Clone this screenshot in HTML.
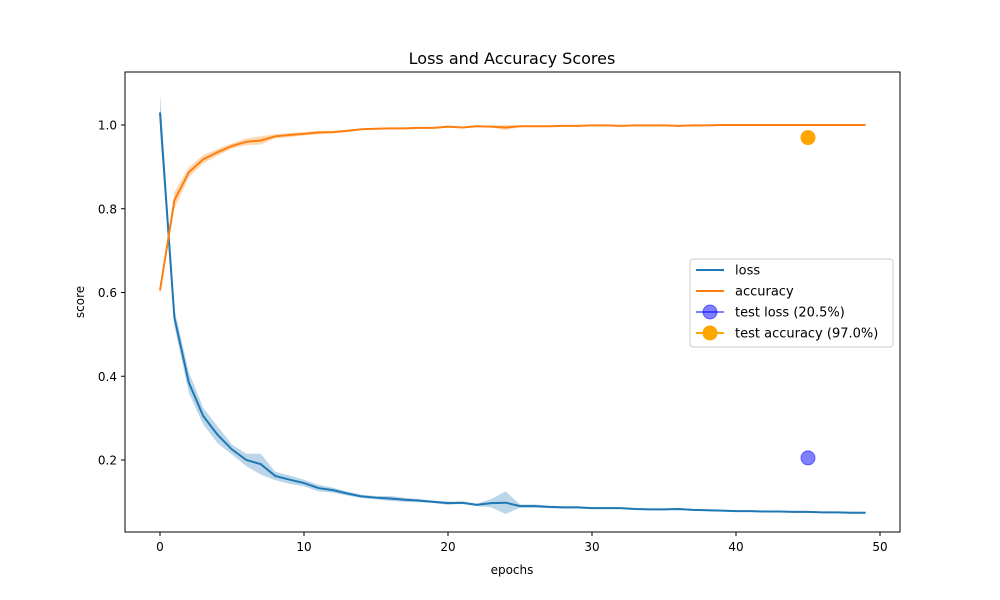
<!DOCTYPE html>
<html><head><meta charset="utf-8"><style>
body{margin:0;background:#fff;}
svg{display:block;font-family:"DejaVu Sans","Liberation Sans",sans-serif;}
</style></head><body>
<svg id="chart" width="1000" height="600"></svg>
<script>
const epochs=[...Array(50).keys()];
const lossVals=[1.03,0.54,0.385,0.305,0.26,0.225,0.2,0.19,0.162,0.153,0.145,0.133,0.128,0.12,0.113,0.11,0.108,0.105,0.103,0.1,0.097,0.098,0.093,0.097,0.098,0.09,0.09,0.088,0.087,0.087,0.085,0.085,0.085,0.083,0.082,0.082,0.083,0.081,0.08,0.079,0.078,0.078,0.077,0.077,0.076,0.076,0.075,0.075,0.074,0.074];
const lossSpread=[0.045,0.02,0.025,0.02,0.02,0.012,0.015,0.025,0.01,0.01,0.008,0.008,0.006,0.005,0.004,0.004,0.006,0.005,0.004,0.003,0.004,0.003,0.003,0.01,0.027,0.004,0.004,0.003,0.003,0.003,0.002,0.002,0.002,0.002,0.002,0.002,0.003,0.002,0.002,0.002,0.002,0.002,0.002,0.002,0.002,0.002,0.002,0.002,0.002,0.002];
const accVals=[0.605,0.82,0.887,0.918,0.935,0.95,0.96,0.963,0.973,0.976,0.979,0.982,0.983,0.986,0.99,0.991,0.992,0.992,0.993,0.993,0.996,0.994,0.997,0.996,0.994,0.997,0.997,0.997,0.998,0.998,0.999,0.999,0.998,0.999,0.999,0.999,0.998,0.999,0.999,1.0,1.0,1.0,1.0,1.0,1.0,1.0,1.0,1.0,1.0,1.0];
const accSpread=[0.006,0.02,0.012,0.01,0.008,0.006,0.008,0.01,0.005,0.005,0.004,0.004,0.003,0.003,0.002,0.002,0.002,0.002,0.002,0.002,0.002,0.002,0.002,0.002,0.006,0.002,0.002,0.001,0.001,0.001,0.001,0.001,0.001,0.001,0.001,0.001,0.001,0.001,0.001,0.001,0.001,0.001,0.001,0.001,0.001,0.001,0.001,0.001,0.001,0.001];
const testEpoch=45, testLoss=0.205, testAcc=0.97;
const xTicks=[0,10,20,30,40,50];
const yTicks=[0.2,0.4,0.6,0.8,1.0];

const NS="http://www.w3.org/2000/svg";
const svg=document.getElementById('chart');
const X=v=>160+v*14.4;
const Y=v=>460-(v-0.2)*418.75;
function el(t,a,p){const e=document.createElementNS(NS,t);for(const k in a)e.setAttribute(k,a[k]);(p||svg).appendChild(e);return e;}

const title=el('text',{x:512,y:64,'text-anchor':'middle','font-size':16});
title.textContent='Loss and Accuracy Scores';



function band(vals,sp,color,name){
  let d=vals.map((v,i)=>(i?'L':'M')+X(i)+','+Y(v+sp[i])).join('');
  for(let i=vals.length-1;i>=0;i--)d+='L'+X(i)+','+Y(vals[i]-sp[i]);
  const p=el('path',{d:d+'Z',fill:color,'fill-opacity':0.3,stroke:'none'});
  
  
}
function line(vals,color,name){
  const p=el('path',{d:vals.map((v,i)=>(i?'L':'M')+X(i)+','+Y(v)).join(''),fill:'none',stroke:color,'stroke-width':2});
  
  
}
band(lossVals,lossSpread,'#1f77b4','loss-band');
band(accVals,accSpread,'#ff7f0e','accuracy-band');
line(lossVals,'#1f77b4','loss-line');
line(accVals,'#ff7f0e','accuracy-line');
const tl=el('circle',{cx:X(testEpoch),cy:Y(testLoss),r:7,fill:'#0000ff','fill-opacity':0.5,stroke:'#0000ff','stroke-opacity':0.5});


const ta=el('circle',{cx:X(testEpoch),cy:Y(testAcc),r:7,fill:'#ffa500',stroke:'#ffa500'});



const frame=el('rect',{x:125,y:72,width:775,height:460,fill:'none',stroke:'#000','stroke-width':1});



xTicks.forEach(t=>{
  const l=el('line',{x1:X(t),x2:X(t),y1:532,y2:536,stroke:'#000'});
  
  
  const tx=el('text',{x:X(t),y:551,'text-anchor':'middle','font-size':12});
  tx.textContent=t;
  
  
});
yTicks.forEach(t=>{
  const l=el('line',{x1:121,x2:125,y1:Y(t),y2:Y(t),stroke:'#000'});
  
  
  const tx=el('text',{x:117,y:Y(t)+4.5,'text-anchor':'end','font-size':12});
  tx.textContent=t.toFixed(1);
  
  
});
const xt=el('text',{x:512,y:574,'text-anchor':'middle','font-size':12});
xt.textContent='epochs';


const yt=el('text',{x:84,y:302,'text-anchor':'middle','font-size':12,transform:'rotate(-90 84 302)'});
yt.textContent='score';



const lg=el('g',{});


el('rect',{x:690,y:259,width:203,height:88,rx:3,fill:'#fff','fill-opacity':0.8,stroke:'#ccc'},lg);
const entries=[['loss','#1f77b4',false,1],['accuracy','#ff7f0e',false,1],['test loss (20.5%)','#0000ff',true,0.5],['test accuracy (97.0%)','#ffa500',true,1]];
entries.forEach((e,i)=>{
  const y=270+i*21;
  const g=el('g',{},lg);
  
  
  el('line',{x1:696,x2:724,y1:y,y2:y,stroke:e[1],'stroke-width':2,'stroke-opacity':e[3]},g);
  if(e[2])el('circle',{cx:710,cy:y,r:7,fill:e[1],'fill-opacity':e[3],stroke:e[1],'stroke-opacity':e[3]},g);
  const t=el('text',{x:735,y:y+4.5,'font-size':13},g);
  t.textContent=e[0];
});
</script>
</body></html>
